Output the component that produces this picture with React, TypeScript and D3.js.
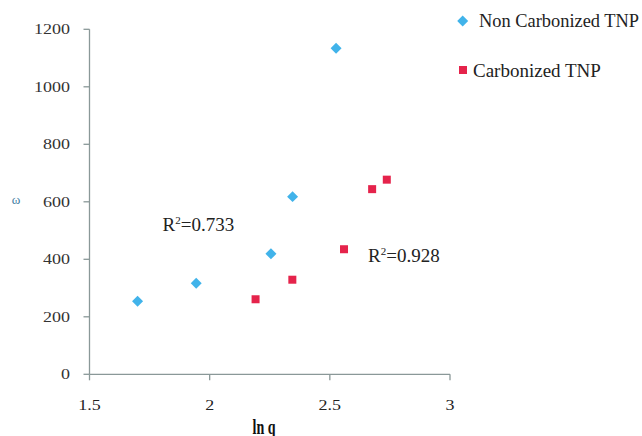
import React from "react";
import * as d3 from "d3";

const nonCarbX = [1.70, 1.944, 2.255, 2.345, 2.526];
const nonCarbY = [254, 317, 419, 618, 1134];
const carbX = [2.191, 2.344, 2.559, 2.676, 2.737];
const carbY = [261, 329, 435, 644, 677];
const xTicks = [1.5, 2, 2.5, 3];
const yTicks = [0, 200, 400, 600, 800, 1000, 1200];
const r2Labels = ["0.733", "0.928"];
const legendLabels = ["Non Carbonized TNP", "Carbonized TNP"];

const FONT = "Liberation Serif, Times New Roman, Times, serif";

export default function App() {
  const W = 642, H = 436;
  const x = d3.scaleLinear().domain([1.5, 3]).range([89.5, 450]);
  const y = d3.scaleLinear().domain([0, 1200]).range([374.3, 29.3]);
  const axisColor = "#8a9898";
  const diamond = d3.symbol().type(d3.symbolSquare).size(60)() as string;
  const blue = "#41b3ea";
  const red = "#e5234b";
  const txt = { fontFamily: FONT };
  return (
    <svg width={W} height={H} style={{ position: "absolute", left: 0, top: 0, background: "#fff" }}>
      <rect width={W} height={H} fill="#fff" />
      {/* axes */}
      <line x1={x(1.5)} x2={x(1.5)} y1={y(1200)} y2={y(0)} stroke={axisColor} strokeWidth={1.3} />
      <line x1={x(1.5)} x2={x(3)} y1={y(0)} y2={y(0)} stroke={axisColor} strokeWidth={1.3} />
      {yTicks.map((t) => (
        <g key={"y" + t}>
          <line x1={x(1.5) - 6} x2={x(1.5)} y1={y(t)} y2={y(t)} stroke={axisColor} strokeWidth={1.3} />
          <g transform={`translate(70,${y(t) + 5}) scale(1.2,1)`}>
            <text x={0} y={0} textAnchor="end" fontSize={15} fill="#333" style={txt}>{t}</text>
          </g>
        </g>
      ))}
      {xTicks.map((t) => (
        <g key={"x" + t}>
          <line x1={x(t)} x2={x(t)} y1={y(0)} y2={y(0) + 6} stroke={axisColor} strokeWidth={1.3} />
          <g transform={`translate(${x(t)},410) scale(1.2,1)`}>
            <text x={0} y={0} textAnchor="middle" fontSize={15} fill="#222" style={txt}>{t}</text>
          </g>
        </g>
      ))}
      <text x={252.5} y={433.5} fontSize={20} fontWeight="bold" fill="#111" textLength={23} lengthAdjust="spacingAndGlyphs" style={txt}>ln q</text>
      <text x={16} y={204} textAnchor="middle" fontSize={13} fill="#3a7aa0" style={txt}>ω</text>
      {/* points */}
      {nonCarbX.map((v, i) => (
        <path key={"n" + i} d={diamond} transform={`translate(${x(v)},${y(nonCarbY[i])}) rotate(45)`} fill={blue} />
      ))}
      {carbX.map((v, i) => (
        <rect key={"c" + i} x={x(v) - 4} y={y(carbY[i]) - 4} width={8} height={8} fill={red} />
      ))}
      {/* R2 labels */}
      <text x={162.5} y={231} fontSize={19} fill="#222" style={txt}>R<tspan dy={-7} fontSize={11}>2</tspan><tspan dy={7}>={r2Labels[0]}</tspan></text>
      <text x={368} y={262} fontSize={19} fill="#222" style={txt}>R<tspan dy={-7} fontSize={11}>2</tspan><tspan dy={7}>={r2Labels[1]}</tspan></text>
      {/* legend */}
      <path d={diamond} transform={`translate(462.7,21) rotate(45)`} fill={blue} />
      <text x={479} y={27} fontSize={18.5} fill="#222" textLength={160} lengthAdjust="spacingAndGlyphs" style={txt}>{legendLabels[0]}</text>
      <rect x={459} y={66} width={8} height={8} fill={red} />
      <text x={473} y={77} fontSize={19} fill="#222" style={txt}>{legendLabels[1]}</text>
    </svg>
  );
}
